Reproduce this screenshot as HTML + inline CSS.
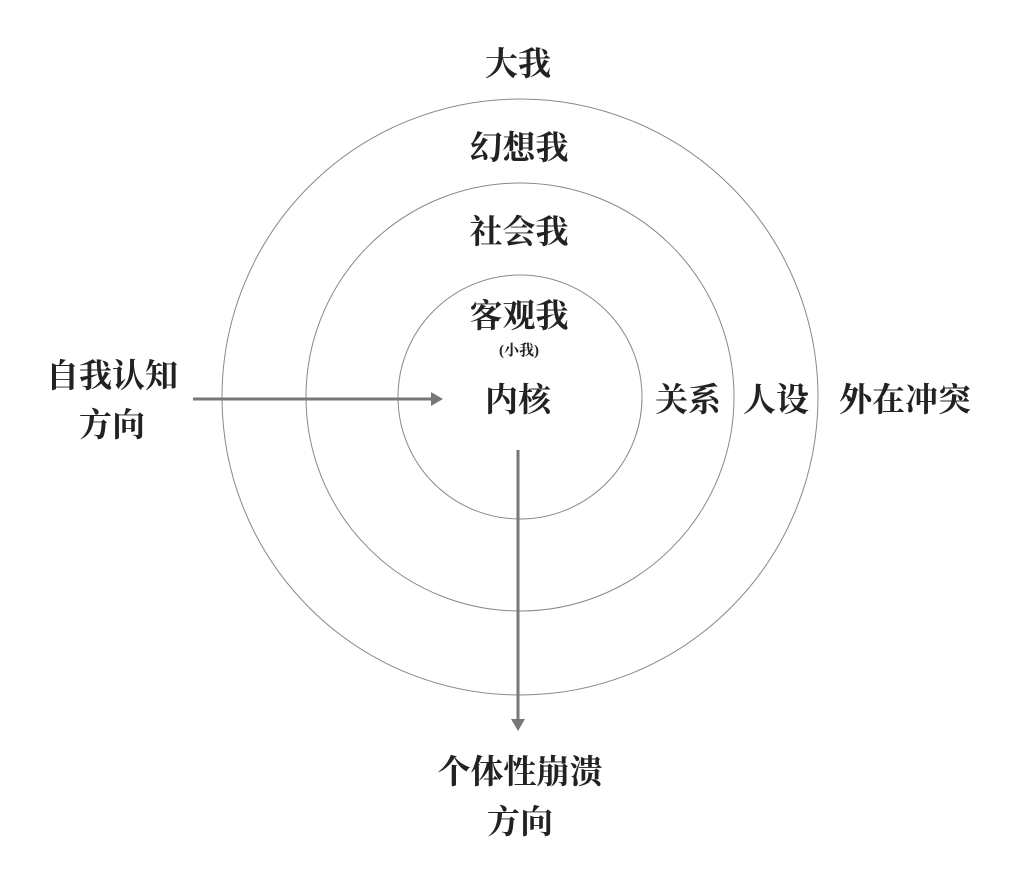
<!DOCTYPE html>
<html><head><meta charset="utf-8"><style>
body{margin:0;background:#fff;}
svg text{font-family:"Liberation Serif","Noto Serif CJK SC",serif;font-weight:bold;fill:#222;}
</style></head><body>
<svg width="1024" height="870" xmlns="http://www.w3.org/2000/svg">
<circle cx="520" cy="397" r="298" fill="none" stroke="#888" stroke-width="1"/>
<circle cx="520" cy="397" r="214" fill="none" stroke="#888" stroke-width="1"/>
<circle cx="520" cy="397" r="122" fill="none" stroke="#888" stroke-width="1"/>
<line x1="193" y1="399" x2="432" y2="399" stroke="#777" stroke-width="3"/>
<polygon points="443,399 431,392 431,406" fill="#777"/>
<line x1="518" y1="450" x2="518" y2="720" stroke="#777" stroke-width="3"/>
<polygon points="518,731 511,719 525,719" fill="#777"/>
<g font-size="33" text-anchor="middle">
<text x="518" y="75">大我</text>
<text x="519" y="159">幻想我</text>
<text x="519" y="243">社会我</text>
<text x="519" y="327">客观我</text>
<text x="518" y="411">内核</text>
<text x="688" y="411">关系</text>
<text x="776" y="411">人设</text>
<text x="905" y="411">外在冲突</text>
<text x="112" y="387">自我认知</text>
<text x="112" y="436">方向</text>
<text x="520" y="783">个体性崩溃</text>
<text x="520" y="833">方向</text>
</g>
<text x="519" y="355" font-size="15" text-anchor="middle">(小我)</text>
</svg>
</body></html>
